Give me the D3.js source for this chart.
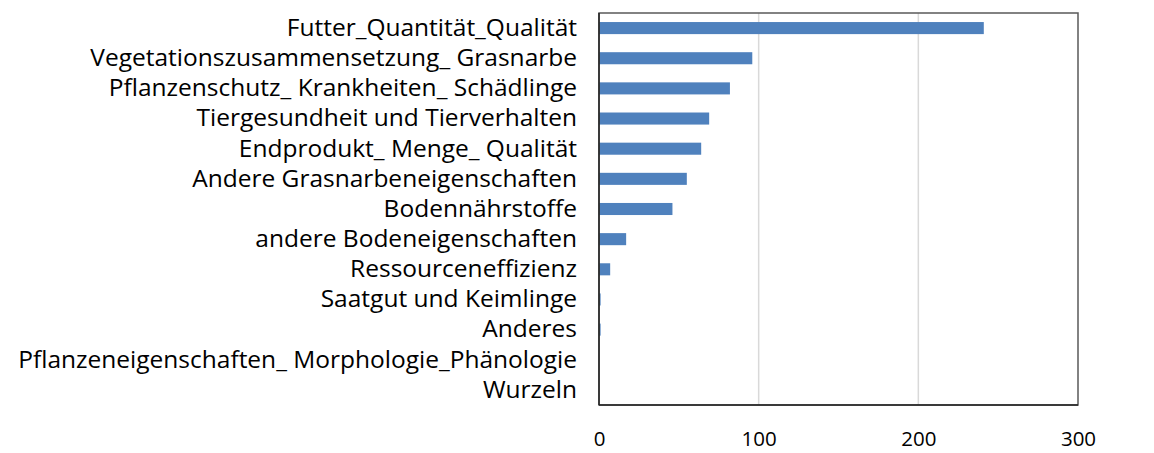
<!DOCTYPE html>
<html>
<head>
<meta charset="utf-8">
<script src="https://cdn.jsdelivr.net/npm/d3@7"></script>
<style>
  html, body { margin: 0; padding: 0; background: #fff; }
  svg text { font-family: "Open Sans", "Liberation Sans", sans-serif; fill: #000; }
</style>
</head>
<body>
<svg id="chart" width="1154" height="453"></svg>
<script>
// Topics and counts, top to bottom
const categories = [
  "Futter_Quantität_Qualität",
  "Vegetationszusammensetzung_ Grasnarbe",
  "Pflanzenschutz_ Krankheiten_ Schädlinge",
  "Tiergesundheit und Tierverhalten",
  "Endprodukt_ Menge_ Qualität",
  "Andere Grasnarbeneigenschaften",
  "Bodennährstoffe",
  "andere Bodeneigenschaften",
  "Ressourceneffizienz",
  "Saatgut und Keimlinge",
  "Anderes",
  "Pflanzeneigenschaften_ Morphologie_Phänologie",
  "Wurzeln"
];
const values = [241, 96, 82, 69, 64, 55, 46, 17, 7, 1, 1, 0, 0];
const xTicks = [0, 100, 200, 300];

const svg = d3.select("#chart");
const plotLeft = 599, plotRight = 1078, plotTop = 13, plotBottom = 405;

const x = d3.scaleLinear().domain([0, 300]).range([plotLeft, plotRight]);
const y = d3.scaleBand().domain(categories).range([plotTop, plotBottom]).paddingInner(0.6).paddingOuter(0.3);

// vertical gridlines
svg.append("g").selectAll("line").data(xTicks.slice(1, 3)).join("line")
  .attr("x1", d => x(d)).attr("x2", d => x(d))
  .attr("y1", plotTop).attr("y2", plotBottom)
  .attr("stroke", "#d9d9d9").attr("stroke-width", 1.5);

// bars
svg.append("g").selectAll("rect").data(values).join("rect")
  .attr("x", x(0))
  .attr("y", (d, i) => y(categories[i]))
  .attr("width", d => x(d) - x(0))
  .attr("height", y.bandwidth())
  .attr("fill", "#4f81bd");

// plot frame
svg.append("rect")
  .attr("x", plotLeft).attr("y", plotTop)
  .attr("width", plotRight - plotLeft).attr("height", plotBottom - plotTop)
  .attr("fill", "none").attr("stroke", "#595959").attr("stroke-width", 1.5);
svg.append("line").attr("x1", plotLeft).attr("x2", plotLeft).attr("y1", plotTop).attr("y2", plotBottom)
  .attr("stroke", "#222").attr("stroke-width", 1.5);
svg.append("line").attr("x1", plotLeft).attr("x2", plotRight).attr("y1", plotBottom).attr("y2", plotBottom)
  .attr("stroke", "#222").attr("stroke-width", 1.5);

// category labels
const yAxis = d3.axisLeft(y).tickSize(0).tickPadding(22);
const gy = svg.append("g").attr("transform", `translate(${plotLeft},0)`).call(yAxis);
gy.select(".domain").remove();
gy.selectAll("text").style("font-size", "24.5px").attr("font-family", null);

// value axis labels
const xAxis = d3.axisBottom(x).tickValues(xTicks).tickSize(0).tickPadding(26);
const gx = svg.append("g").attr("transform", `translate(0,${plotBottom})`).call(xAxis);
gx.select(".domain").remove();
gx.selectAll("text").style("font-size", "20.5px").attr("font-family", null);
</script>
</body>
</html>
